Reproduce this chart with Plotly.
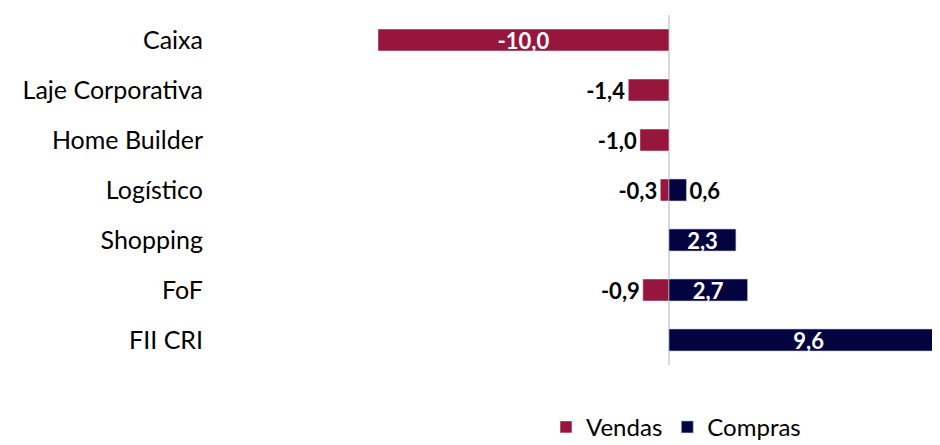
import plotly.graph_objects as go

categories = ["Caixa", "Laje Corporativa", "Home Builder", "Logístico", "Shopping", "FoF", "FII CRI"]
vendas = [-10.0, -1.4, -1.0, -0.3, None, -0.9, None]
compras = [None, None, None, 0.6, 2.3, 2.7, 9.6]
vendas_pos = ["inside", "outside", "outside", "outside", "none", "outside", "none"]
compras_pos = ["none", "none", "none", "outside", "inside", "inside", "inside"]

def fmt(v):
    return "" if v is None else f"{v:.1f}".replace(".", ",")

FONT = "Lato"
RED = "#97163D"
NAVY = "#03033F"

fig = go.Figure()
fig.add_trace(go.Bar(
    y=categories, x=vendas, orientation="h", name="Vendas",
    marker=dict(color=RED, line=dict(color="rgba(255,255,255,0.5)", width=1)),
    text=[fmt(v) for v in vendas], textposition=vendas_pos,
    insidetextfont=dict(color="white", size=22, family=FONT, weight="bold"),
    outsidetextfont=dict(color="black", size=22, family=FONT, weight="bold"),
    insidetextanchor="middle", constraintext="none", width=0.44,
    hoverinfo="skip", cliponaxis=False,
))
fig.add_trace(go.Bar(
    y=categories, x=compras, orientation="h", name="Compras",
    marker=dict(color=NAVY, line=dict(color="rgba(200,200,230,0.6)", width=1)),
    text=[fmt(v) for v in compras], textposition=compras_pos,
    insidetextfont=dict(color="white", size=22, family=FONT, weight="bold"),
    outsidetextfont=dict(color="black", size=22, family=FONT, weight="bold"),
    insidetextanchor="middle", constraintext="none", width=0.44,
    hoverinfo="skip",
))

fig.update_layout(
    width=950, height=470,
    barmode="relative",
    plot_bgcolor="white", paper_bgcolor="white",
    margin=dict(l=202, r=0, t=7, b=113),
    font=dict(family=FONT, size=25, color="black"),
    showlegend=True,
    legend=dict(orientation="h", x=0.623, xanchor="center", y=-0.178, yanchor="middle",
                font=dict(size=24, family=FONT), traceorder="normal", itemwidth=30),
)
fig.update_xaxes(range=[-15.77, 9.93], showgrid=False, showticklabels=False, zeroline=True,
                 zerolinecolor="#D9D9D9", zerolinewidth=2, showline=False, automargin=False)
fig.update_yaxes(autorange="reversed", showgrid=False, showline=False, ticks="",
                 tickfont=dict(size=25, family=FONT, color="black"), ticklabelstandoff=6,
                 automargin=False)

fig.write_html("out.html")
